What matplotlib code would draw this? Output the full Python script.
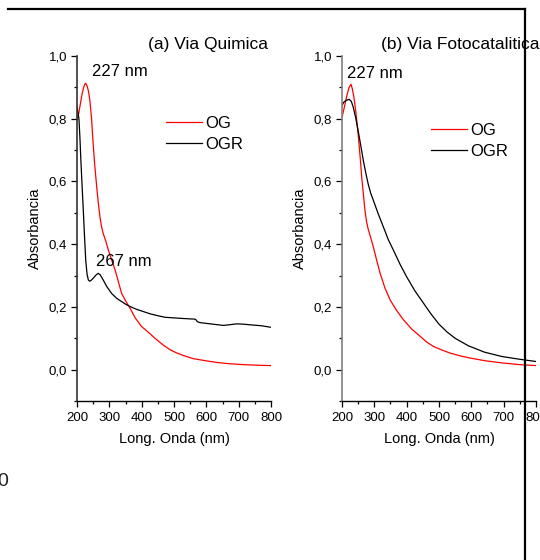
import numpy as np
import matplotlib
matplotlib.use('Agg')
import matplotlib.pyplot as plt
from matplotlib.ticker import MultipleLocator, FuncFormatter
from matplotlib.lines import Line2D

plt.rcParams['font.family'] = ['Liberation Sans', 'DejaVu Sans']

# (a) Via Quimica
wl_og_a = [200, 205, 210, 215, 220, 224, 227, 231, 235, 240, 245, 250, 255, 261, 266,
           271, 276, 281, 289, 297, 307, 318, 328, 338, 350, 364, 380, 400, 420, 441,
           467, 490, 509, 535, 560, 600, 632, 670, 715, 760, 800]
abs_og_a = [0.80, 0.815, 0.845, 0.875, 0.898, 0.910, 0.913, 0.905, 0.89, 0.857, 0.80,
            0.72, 0.65, 0.582, 0.53, 0.487, 0.455, 0.434, 0.41, 0.381, 0.35, 0.317,
            0.28, 0.243, 0.22, 0.196, 0.165, 0.137, 0.12, 0.10, 0.078, 0.062, 0.053,
            0.043, 0.035, 0.028, 0.023, 0.019, 0.016, 0.014, 0.013]
wl_ogr_a = [200, 203, 206, 209, 212, 216, 219.5, 223, 227, 231, 235, 239, 243, 248, 254,
            260, 266, 272, 281, 292, 307, 322, 338, 353, 369, 385, 400, 426, 450, 472,
            500, 530, 565, 568, 572, 580, 612, 653, 670, 694, 715, 735, 770, 800]
abs_ogr_a = [0.836, 0.82, 0.799, 0.74, 0.667, 0.58, 0.508, 0.43, 0.349, 0.305, 0.286,
             0.282, 0.284, 0.289, 0.296, 0.303, 0.307, 0.302, 0.286, 0.265, 0.243,
             0.228, 0.217, 0.207, 0.199, 0.192, 0.187, 0.178, 0.172, 0.167, 0.165,
             0.163, 0.161, 0.159, 0.153, 0.15, 0.146, 0.141, 0.143, 0.146, 0.145,
             0.143, 0.14, 0.135]

# (b) Via Fotocatalitica
wl_og_b = [200, 208, 216, 222, 228, 232, 237, 243, 250, 256, 261, 266, 271, 276, 281,
           289, 297, 307, 318, 333, 349, 368, 390, 415, 442, 462, 483, 508, 534, 565,
           596, 645, 699, 750, 800]
abs_og_b = [0.804, 0.84, 0.878, 0.90, 0.910, 0.895, 0.868, 0.82, 0.751, 0.68, 0.614,
            0.56, 0.508, 0.472, 0.448, 0.42, 0.391, 0.35, 0.307, 0.26, 0.222, 0.19,
            0.159, 0.13, 0.106, 0.088, 0.074, 0.063, 0.053, 0.044, 0.037, 0.028,
            0.021, 0.016, 0.013]
wl_ogr_b = [200, 205, 212, 222, 229, 235, 242, 250, 258, 266, 274, 281, 289, 297, 312,
            328, 343, 359, 380, 400, 425, 452, 475, 500, 525, 550, 591, 640, 694,
            750, 800]
abs_ogr_b = [0.841, 0.852, 0.858, 0.862, 0.855, 0.836, 0.805, 0.762, 0.715, 0.667,
             0.625, 0.592, 0.562, 0.54, 0.497, 0.455, 0.415, 0.381, 0.335, 0.296,
             0.252, 0.212, 0.178, 0.145, 0.12, 0.1, 0.076, 0.056, 0.042,
             0.033, 0.026]

comma = FuncFormatter(lambda v, p: ('%.1f' % v).replace('.', ','))

fig = plt.figure(figsize=(5.4, 5.6), dpi=100)
ax_a = fig.add_axes([0.1426, 0.2839, 0.3593, 0.6161])
ax_b = fig.add_axes([0.6333, 0.2839, 0.3593, 0.6161])


def style(ax, spine_col):
    ax.set_xlim(200, 800)
    ax.set_ylim(-0.1, 1.0)
    for s in ['top', 'right']:
        ax.spines[s].set_visible(False)
    ax.spines['left'].set_color(spine_col)
    ax.spines['left'].set_linewidth(1.2)
    ax.spines['bottom'].set_linewidth(1.0)
    ax.xaxis.set_major_locator(MultipleLocator(100))
    ax.xaxis.set_minor_locator(MultipleLocator(50))
    ax.yaxis.set_major_locator(MultipleLocator(0.2))
    ax.yaxis.set_minor_locator(MultipleLocator(0.1))
    ax.yaxis.set_major_formatter(comma)
    ax.tick_params(which='major', direction='out', length=4, width=0.9, labelsize=9.5)
    ax.tick_params(which='minor', direction='out', length=2.5, width=0.9)
    ax.tick_params(axis='x', pad=4)
    ax.tick_params(axis='y', pad=3)
    ax.set_xlabel('Long. Onda (nm)', fontsize=10.5, labelpad=6)
    ax.set_ylabel('Absorbancia', fontsize=10.5, labelpad=5)
    ax.patch.set_alpha(0)


leg_kw = dict(loc='center left', frameon=False, fontsize=12, handlelength=2.15,
              handletextpad=0.2, labelspacing=0.32, borderpad=0, borderaxespad=0)

ax_a.plot(wl_og_a, abs_og_a, color='#ff0000', lw=0.9, label='OG')
ax_a.plot(wl_ogr_a, abs_ogr_a, color='black', lw=0.9, label='OGR')
style(ax_a, '#333333')
ax_a.text(246, 0.949, '227 nm', fontsize=12, ha='left', va='center')
ax_a.text(258, 0.344, '267 nm', fontsize=12, ha='left', va='center')
ax_a.legend(bbox_to_anchor=(0.459, 0.774), **leg_kw)

ax_b.plot(wl_og_b, abs_og_b, color='#ff0000', lw=0.9, label='OG')
ax_b.plot(wl_ogr_b, abs_ogr_b, color='black', lw=0.9, label='OGR')
style(ax_b, '#808080')
ax_b.text(216.5, 0.944, '227 nm', fontsize=12, ha='left', va='center')
ax_b.legend(bbox_to_anchor=(0.459, 0.754), **leg_kw)

fig.text(148 / 540, 1 - 45 / 560, '(a) Via Quimica', fontsize=12.5, ha='left', va='center')
fig.text(381 / 540, 1 - 45 / 560, '(b) Via Fotocatalitica', fontsize=12.5, ha='left', va='center')

# stray label of a neighbouring panel, cut at the left edge
fig.text(8 / 540, 1 - 481 / 560, '0', fontsize=14, ha='right', va='center', color='#222222')

# frame cut by the crop
fig.add_artist(Line2D([8 / 540, 525 / 540], [1 - 9 / 560, 1 - 9 / 560],
                      color='black', lw=1.6, transform=fig.transFigure, zorder=10))
fig.add_artist(Line2D([525 / 540, 525 / 540], [1 - 9 / 560, 0],
                      color='black', lw=1.6, transform=fig.transFigure, zorder=10))

fig.savefig('out.png', dpi=100)
